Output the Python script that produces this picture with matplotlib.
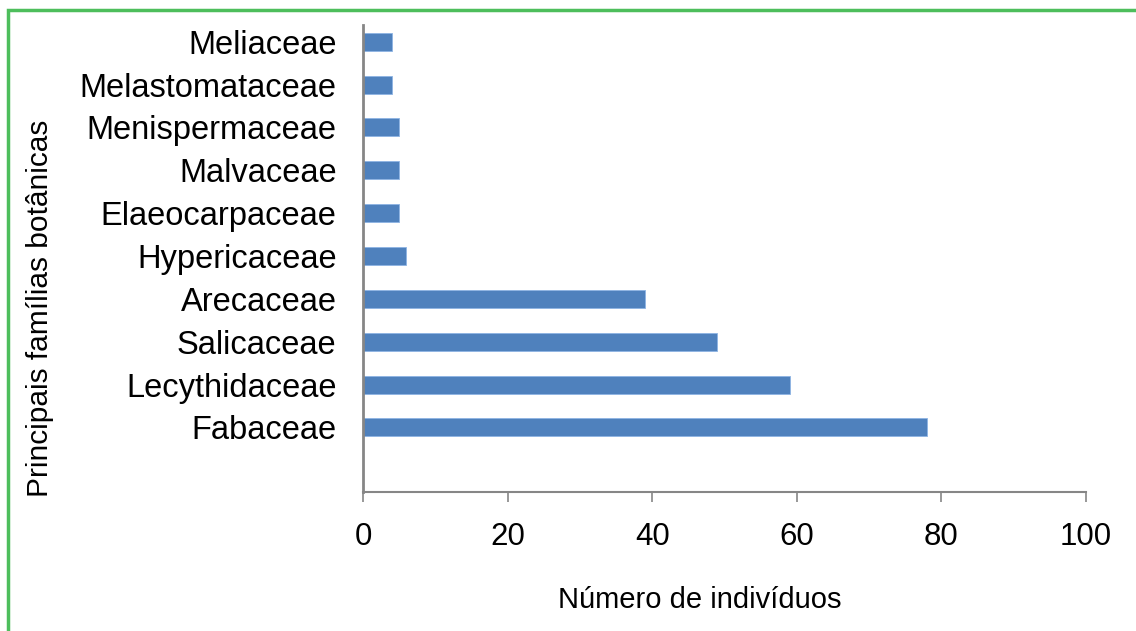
import matplotlib
matplotlib.use("Agg")
import matplotlib.pyplot as plt
import numpy as np
from matplotlib.patches import Rectangle

plt.rcParams["font.family"] = ["Liberation Sans", "DejaVu Sans"]

COLOR_BAR = "#4F81BD"
COLOR_AXIS = "#868686"
COLOR_BORDER = "#4DBE5C"

# bottom to top
families = ["Fabaceae", "Lecythidaceae", "Salicaceae", "Arecaceae", "Hypericaceae",
            "Elaeocarpaceae", "Malvaceae", "Menispermaceae", "Melastomataceae", "Meliaceae"]
counts = [78, 59, 49, 39, 6, 5, 5, 5, 4, 4]
x_ticks = [0, 20, 40, 60, 80, 100]

fig = plt.figure(figsize=(11.36, 6.31), dpi=100)
ax = fig.add_axes([363 / 1136, 1 - 491.7 / 631, (1086 - 363) / 1136, (491.7 - 25) / 631])

y = np.arange(len(families)) + 1.5
ax.barh(y, counts, height=0.42, color=COLOR_BAR, edgecolor="#8EB4E3", linewidth=0.6)

ax.set_xlim(0, 100)
ax.set_ylim(0, 10.89)
ax.set_xticks(x_ticks)
ax.set_xticklabels([str(t) for t in x_ticks], fontsize=22.5)
ax.set_yticks(y)
ax.set_yticklabels(families, fontsize=23.5)

for s in ["top", "right"]:
    ax.spines[s].set_visible(False)
for s in ["left", "bottom"]:
    ax.spines[s].set_color(COLOR_AXIS)
ax.spines["left"].set_linewidth(2)
ax.spines["bottom"].set_linewidth(1.5)
ax.tick_params(axis="x", direction="out", length=7.5, width=1.2, color=COLOR_AXIS, pad=14)
ax.tick_params(axis="y", length=0, pad=19)

fig.text(700 / 1136, 1 - 600 / 631, "Número de indivíduos", fontsize=21, ha="center", va="center")
fig.text(40 / 1136, 1 - 308.5 / 631, "Principais famílias botânicas", fontsize=21.5,
         ha="center", va="center", rotation=90)

fig.patches.append(Rectangle((8 / 1136, -0.1), 1.2, 1.1 - 10 / 631, transform=fig.transFigure,
                             fill=False, edgecolor=COLOR_BORDER, linewidth=2.5))

fig.savefig("out.png", dpi=100)
